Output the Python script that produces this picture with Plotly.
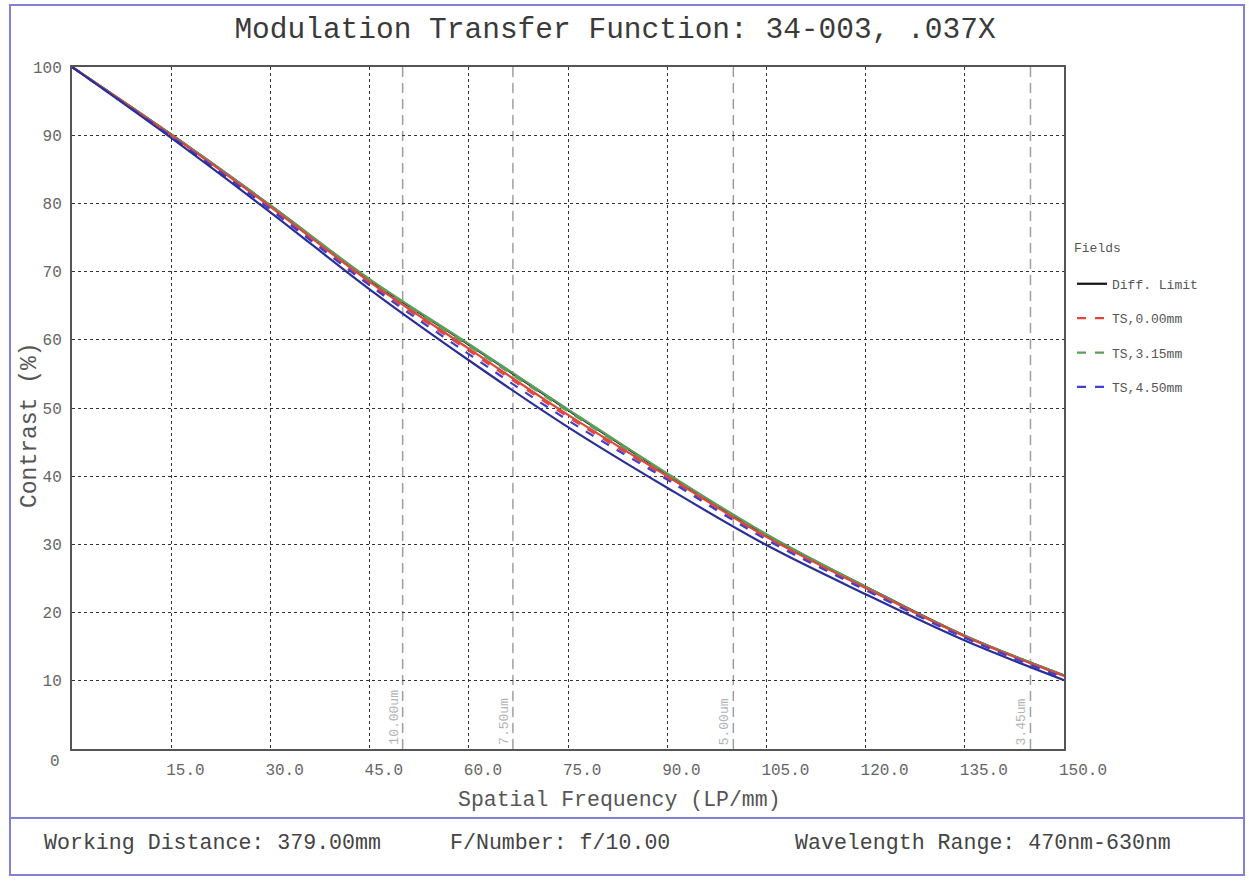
import plotly.graph_objects as go

# ---------------- data ----------------
freq = [0, 15, 30, 45, 60, 75, 90, 105, 120, 135, 150]
diff_limit = [100, 90.1, 79.7, 68.8, 59.3, 49.7, 40.3, 31.4, 23.8, 16.6, 10.8]
f315_t = [100, 90.1, 79.7, 68.9, 59.4, 49.8, 40.4, 31.5, 23.8, 16.6, 10.8]
f315_s = [100, 90.0, 79.6, 68.7, 59.1, 49.5, 40.2, 31.3, 23.7, 16.5, 10.7]
f000_t = [100, 90.0, 79.5, 68.5, 58.7, 49.0, 40.0, 31.1, 23.6, 16.5, 10.7]
f000_s = [100, 89.9, 79.3, 68.3, 58.4, 48.7, 39.8, 31.0, 23.5, 16.4, 10.6]
f450_s = [100, 89.8, 79.1, 68.0, 57.9, 48.2, 39.5, 30.7, 23.3, 16.3, 10.4]
f450_t = [100, 89.6, 78.7, 67.4, 57.0, 47.2, 38.3, 29.9, 22.7, 15.9, 10.1]

x_ticks = [15, 30, 45, 60, 75, 90, 105, 120, 135, 150]
x_tick_text = ["15.0", "30.0", "45.0", "60.0", "75.0", "90.0", "105.0", "120.0", "135.0", "150.0"]
y_ticks = [10, 20, 30, 40, 50, 60, 70, 80, 90, 100]
y_tick_text = ["10", "20", "30", "40", "50", "60", "70", "80", "90", "100"]

nyq_freq = [50.0, 66.67, 100.0, 144.93]
nyq_labels = ["10.00um", "7.50um", "5.00um", "3.45um"]

title_text = "Modulation Transfer Function: 34-003, .037X"
footer_texts = ["Working Distance: 379.00mm", "F/Number: f/10.00", "Wavelength Range: 470nm-630nm"]

MONO = "Liberation Mono, Courier New, monospace"
RED = "#e0463e"
GREEN = "#5a9f5a"
BLUE = "#4040cc"
NAVY = "#2a2f98"
FRAME = "#8080d8"

fig = go.Figure()

def add(y, name, color, dash, group, show, rank, width=2.2):
    fig.add_trace(go.Scatter(
        x=freq, y=y, name=name, mode="lines", legendgroup=group, showlegend=show,
        legendrank=rank,
        line=dict(color=color, width=width, dash=dash, shape="spline", smoothing=1.0),
        hoverinfo="x+y+name"))

add(diff_limit, "Diff. Limit", "#111111", "solid", "g0", True, 1)
add(f315_t, "TS,3.15mm", GREEN, "solid", "g2", False, 3)
add(f315_s, "TS,3.15mm", GREEN, "dash", "g2", True, 3)
add(f000_t, "TS,0.00mm", RED, "solid", "g1", False, 2)
add(f000_s, "TS,0.00mm", RED, "dash", "g1", True, 2)
add(f450_s, "TS,4.50mm", BLUE, "dash", "g3", True, 4)
add(f450_t, "TS,4.50mm", NAVY, "solid", "g3", False, 4)

# Nyquist marker lines
shapes = []
annotations = []
for f, lab in zip(nyq_freq, nyq_labels):
    shapes.append(dict(type="line", xref="x", yref="paper", x0=f, x1=f, y0=0, y1=1,
                       line=dict(color="#a0a0a0", width=1.5, dash="10px,6px"), layer="below"))
    annotations.append(dict(x=f, y=0, xref="x", yref="paper", text=lab, textangle=-90,
                            showarrow=False, xanchor="right", yanchor="bottom", xshift=1, yshift=2,
                            font=dict(family=MONO, size=13, color="#b4b4b4")))

# outer frame (pixel geometry converted to paper units)
L, R, T, B = 72, 1064, 67, 749
W, H = R - L, B - T
def px(xp):
    return (xp - L) / W
def py(yp):
    return (B - yp) / H

shapes.append(dict(type="rect", xref="paper", yref="paper", x0=px(10), x1=px(1244), y0=py(5), y1=py(875),
                   line=dict(color=FRAME, width=2), layer="below"))
shapes.append(dict(type="line", xref="paper", yref="paper", x0=px(10), x1=px(1244), y0=py(818), y1=py(818),
                   line=dict(color=FRAME, width=2), layer="below"))

# axis titles and origin label
annotations.append(dict(x=px(619), y=py(800), xref="paper", yref="paper", text="Spatial Frequency (LP/mm)",
                        showarrow=False, xanchor="center", yanchor="middle",
                        font=dict(family=MONO, size=21.5, color="#555555")))
annotations.append(dict(x=px(30), y=py(425), xref="paper", yref="paper", text="Contrast (%)", textangle=-90,
                        showarrow=False, xanchor="center", yanchor="middle",
                        font=dict(family=MONO, size=23, color="#555555")))
annotations.append(dict(x=px(55), y=py(762), xref="paper", yref="paper", text="0",
                        showarrow=False, xanchor="center", yanchor="middle",
                        font=dict(family=MONO, size=16, color="#666666")))

# footer
annotations.append(dict(x=px(42), y=py(843), xref="paper", yref="paper", text=footer_texts[0],
                        showarrow=False, xanchor="left", yanchor="middle",
                        font=dict(family=MONO, size=21.6, color="#444444")))
annotations.append(dict(x=px(560), y=py(843), xref="paper", yref="paper", text=footer_texts[1],
                        showarrow=False, xanchor="center", yanchor="middle",
                        font=dict(family=MONO, size=21.6, color="#444444")))
annotations.append(dict(x=px(793), y=py(843), xref="paper", yref="paper", text=footer_texts[2],
                        showarrow=False, xanchor="left", yanchor="middle",
                        font=dict(family=MONO, size=21.6, color="#444444")))

fig.update_layout(
    width=1249, height=881,
    margin=dict(l=L, r=1249 - R, t=T, b=881 - B, pad=0),
    paper_bgcolor="white", plot_bgcolor="white",
    title=dict(text=title_text, x=615 / 1249, y=1 - 28 / 881, xref="container", yref="container",
               xanchor="center", yanchor="middle",
               font=dict(family=MONO, size=29.5, color="#3a3a3a")),
    xaxis=dict(range=[0, 150], tickvals=x_ticks, ticktext=x_tick_text, showgrid=True,
               gridcolor="#333333", griddash="dot", gridwidth=1, zeroline=False,
               showline=True, linecolor="#555555", linewidth=2, mirror=True, ticks="",
               ticklabelposition="outside right", ticklabelshift=-6,
               ticklabelstandoff=5,
               tickfont=dict(family=MONO, size=16, color="#666666")),
    yaxis=dict(range=[0, 100], tickvals=y_ticks, ticktext=y_tick_text, showgrid=True,
               gridcolor="#333333", griddash="dot", gridwidth=1, zeroline=False,
               showline=True, linecolor="#555555", linewidth=2, mirror=True, ticks="",
               ticklabelstandoff=5,
               tickfont=dict(family=MONO, size=16, color="#666666")),
    legend=dict(x=px(1072), y=py(235), xref="paper", yref="paper", xanchor="left", yanchor="top",
                title=dict(text="Fields<br>\u00a0", font=dict(family=MONO, size=13, color="#555555")),
                font=dict(family=MONO, size=13, color="#555555"),
                traceorder="grouped", tracegroupgap=14.5, itemwidth=30,
                bgcolor="rgba(0,0,0,0)"),
    shapes=shapes, annotations=annotations,
    showlegend=True,
)

fig.write_html("out.html", config={"displayModeBar": False},
               post_script="document.body.style.margin='0';document.body.style.overflow='hidden';")
